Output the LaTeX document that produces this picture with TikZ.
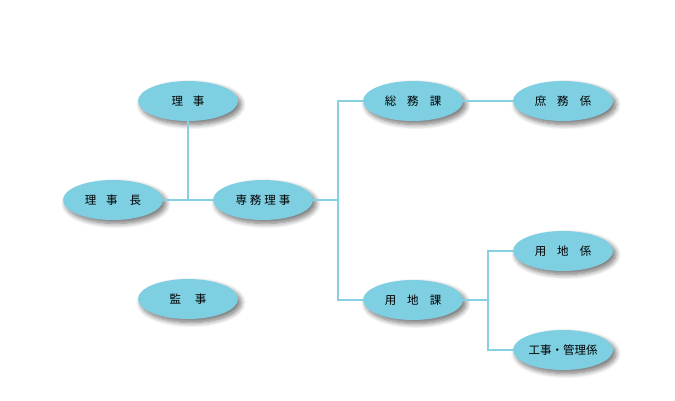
\documentclass[tikz,border=0pt]{standalone}
\usepackage{fontspec}
\newfontfamily\jp{Noto Sans CJK JP}
\usetikzlibrary{shapes.geometric,shadows.blur}
\definecolor{fillblue}{HTML}{7ECFE2}
\definecolor{lineblue}{HTML}{86D0E2}
\begin{document}
\begin{tikzpicture}[x=1pt,y=-1pt,
  org/.style={ellipse,fill=fillblue,minimum width=100pt,minimum height=40pt,inner sep=0pt,
    font=\jp\fontsize{11.5}{12}\selectfont,text=black,
    blur shadow={shadow xshift=3pt,shadow yshift=-3.5pt,shadow blur radius=5pt,shadow blur steps=8,shadow opacity=55}},
  conn/.style={draw=lineblue,line width=1.6pt}]
\useasboundingbox (0,0) rectangle (675,400);
\newcommand{\gp}[1]{\hspace{#1pt}}
\node[org] (riji) at (188,101) {理\gp{10}事};
\node[org] (rijicho) at (113,200) {理\gp{10}事\gp{12}長};
\node[org] (senmu) at (263,200) {専\gp{3}務\gp{3}理\gp{3}事};
\node[org] (kanji) at (188,299) {監\gp{14}事};
\node[org] (somu) at (413,101) {総\gp{11}務\gp{11}課};
\node[org] (shomu) at (563,101) {庶\gp{11}務\gp{11}係};
\node[org] (yochika) at (413,300) {用\gp{11}地\gp{11}課};
\node[org] (yochikei) at (563,251) {用\gp{11}地\gp{11}係};
\node[org] (koji) at (563,350) {工事・管理係};
\coordinate (j1) at (188,200);
\coordinate (j2) at (338,200);
\coordinate (j3) at (488,300);
\draw[conn] (riji.south) -- (j1);
\draw[conn] (rijicho.east) -- (senmu.west);
\draw[conn] (senmu.east) -- (j2);
\draw[conn] (j2) |- (somu.west);
\draw[conn] (j2) |- (yochika.west);
\draw[conn] (somu.east) -- (shomu.west);
\draw[conn] (yochika.east) -- (j3);
\draw[conn] (j3) |- (yochikei.west);
\draw[conn] (j3) |- (koji.west);
\end{tikzpicture}
\end{document}
